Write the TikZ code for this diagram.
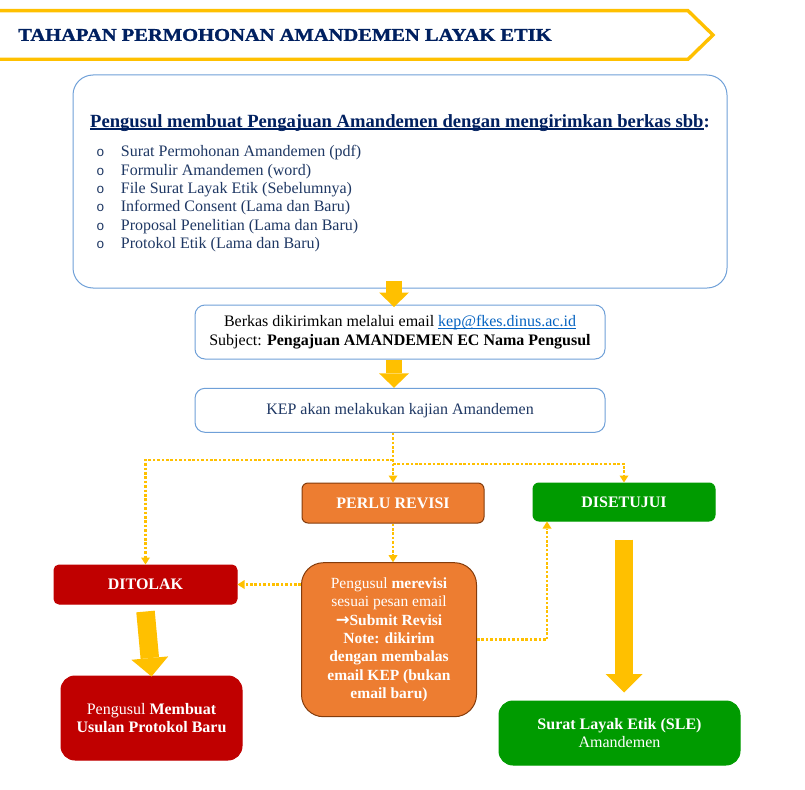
\documentclass[tikz,border=0pt]{standalone}
\usepackage{fontspec}
\setmainfont{Liberation Serif}
\newfontfamily\monofont{Liberation Mono}
\newfontfamily\simbol{DejaVu Sans}
\newfontfamily\judulfont[BoldFeatures={FakeBold=1.2}]{Liberation Serif}
\usepackage{tikz}
\usetikzlibrary{
  positioning,
  calc,
  arrows.meta
}
\definecolor{kuning}{HTML}{FFC000}
\definecolor{navy}{HTML}{002060}
\definecolor{navyList}{HTML}{1F3864}
\definecolor{garisBiru}{HTML}{6FA0D8}
\definecolor{oranye}{HTML}{ED7D31}
\definecolor{coklat}{HTML}{843C0C}
\definecolor{merah}{HTML}{C00000}
\definecolor{hijau}{HTML}{009B00}
\definecolor{tautan}{HTML}{0563C1}
\tikzstyle{kotak}=[draw=garisBiru, line width=1pt, fill=white, inner sep=0pt, align=center]
\tikzstyle{titik}=[kuning, line width=2.6pt, dash pattern=on 2.6pt off 1.8pt, -{Triangle[width=9pt, length=7pt, line width=0pt]}]
\tikzstyle{panah}=[kuning, -{Triangle[width=30pt, length=14.5pt, line width=0pt]}, line width=15.5pt]
\tikzstyle{panahBesar}=[kuning, -{Triangle[width=37pt, length=18.5pt, line width=0pt]}, line width=18.5pt]
\newcommand{\teks}{\fontsize{16}{18.4}\selectfont}
\newcommand{\garis}[2][1pt]{\setbox0\hbox{#2}\rlap{\rule[-2.3pt]{\wd0}{#1}}\box0}

\begin{document}
\begin{tikzpicture}[x=1pt, y=-1pt]
      \useasboundingbox (0,0) rectangle (805,789);

      % judul
      \draw[kuning, line width=3.4pt] (-3,10.7) -- (688,10.7) -- (713,35) -- (688,59.3) -- (-3,59.3);
      \node (judul) at (18,35) [anchor=west, inner sep=0pt, xscale=1.14, text=navy,
        font=\judulfont\fontsize{18}{20}\selectfont\bfseries]{TAHAPAN PERMOHONAN AMANDEMEN LAYAK ETIK};

      % kotak berkas
      \node (berkas) at (400,181.5) [kotak, rounded corners=20pt, minimum width=654pt, minimum height=213pt]{};
      \node (syarat) at (400,127.3) [anchor=base, inner sep=0pt, text=navy,
        font=\fontsize{18.6}{20}\selectfont\bfseries]{\garis[1.3pt]{Pengusul membuat Pengajuan Amandemen dengan mengirimkan berkas sbb}:};
      \foreach \item [count=\i from 0] in {Surat Permohonan Amandemen (pdf), Formulir Amandemen (word),
          File Surat Layak Etik (Sebelumnya), Informed Consent (Lama dan Baru),
          Proposal Penelitian (Lama dan Baru), Protokol Etik (Lama dan Baru)}{
        \node (b\i) at (100.3,{156.7+18.4*\i}) [anchor=base, inner sep=0pt, text=navyList,
          font=\monofont\fontsize{13.5}{14}\selectfont]{o};
        \node (f\i) at (120.7,{156.7+18.4*\i}) [anchor=base west, inner sep=0pt, text=navyList, font=\teks]{\item};
      }

      % email dan kajian
      \node (email) at (400,332) [kotak, rounded corners=10pt, minimum width=410pt, minimum height=54pt, font=\teks]
        {Berkas dikirimkan melalui email \textcolor{tautan}{\garis{kep@fkes.dinus.ac.id}}\\
         Subject: \textbf{Pengajuan AMANDEMEN EC Nama Pengusul}};
      \node (kajian) at (400,410.3) [kotak, rounded corners=10pt, minimum width=410pt, minimum height=44pt,
        font=\teks, text=navyList]{KEP akan melakukan kajian Amandemen};

      % hasil kajian
      \node (perlu) at (393,503) [kotak, draw=coklat, fill=oranye, rounded corners=6pt, minimum width=182pt,
        minimum height=40pt, text=white, font=\teks\bfseries]{PERLU REVISI};
      \node (setuju) at (624,502) [kotak, draw=hijau, fill=hijau, rounded corners=6pt, minimum width=182pt,
        minimum height=38pt, text=white, font=\teks\bfseries]{DISETUJUI};
      \node (ditolak) at (145.5,584.5) [kotak, draw=merah, fill=merah, rounded corners=5pt, minimum width=183pt,
        minimum height=39pt, text=white, font=\teks\bfseries]{DITOLAK};
      \node (revisi) at (389,639.7) [kotak, draw=coklat, fill=oranye, rounded corners=22pt, minimum width=175pt,
        minimum height=154pt, text=white, font=\fontsize{15.5}{18.3}\selectfont]
        {Pengusul \textbf{merevisi}\\ sesuai pesan email\\ {\simbol\bfseries\fontsize{16.5}{14}\selectfont →}\textbf{Submit Revisi}\\
         \textbf{Note: dikirim}\\ \textbf{dengan membalas}\\ \textbf{email KEP (bukan}\\ \textbf{email baru)}};
      \node (baru) at (151.5,718) [kotak, draw=merah, fill=merah, rounded corners=14pt, minimum width=181pt,
        minimum height=84pt, text=white, font=\teks]{Pengusul \textbf{Membuat}\\ \textbf{Usulan Protokol Baru}};
      \node (sle) at (619.5,733) [kotak, draw=hijau, fill=hijau, rounded corners=14pt, minimum width=241pt,
        minimum height=64pt, text=white, font=\teks]{\textbf{Surat Layak Etik (SLE)}\\ Amandemen};

      % panah kuning
      \draw[panah] ([xshift=-6pt, yshift=8pt]berkas.south) -- ([xshift=-6pt, yshift=-2.5pt]email.north);
      \draw[panah] ([xshift=-6pt]email.south) -- ([xshift=-6pt]kajian.north);
      \draw[panahBesar] ([yshift=-7pt]ditolak.south) -- ([yshift=-1pt]baru.north);
      \draw[panahBesar] ([yshift=-18pt]setuju.south) -- ([yshift=8pt]setuju.south |- sle.north);

      % garis titik-titik
      \coordinate (cabang) at ([yshift=-27pt]perlu.north |- kajian.south);
      \draw[titik] (perlu.north |- kajian.south) -- (perlu.north);
      \draw[titik] (cabang) -| (ditolak.north);
      \draw[titik] ([yshift=-4pt]cabang) -| (setuju.north);
      \draw[titik] (perlu.south) -- (perlu.south |- revisi.north);
      \draw[titik] (revisi.west |- ditolak.east) -- (ditolak.east);
      \draw[titik] (revisi.east) -| ([xshift=-77pt]setuju.south);
\end{tikzpicture}
\end{document}
